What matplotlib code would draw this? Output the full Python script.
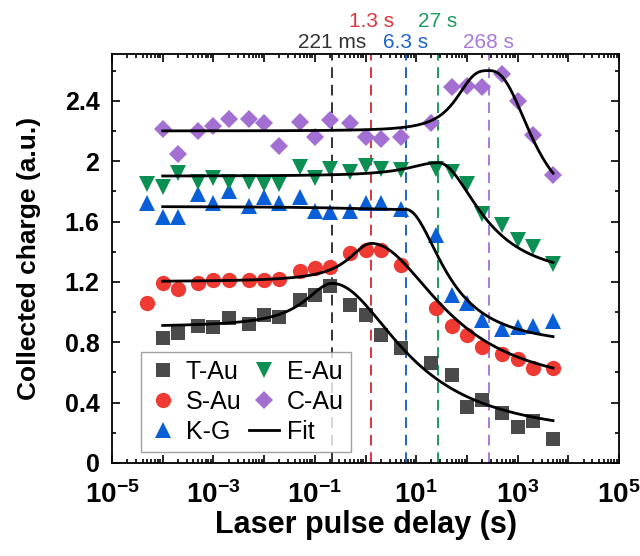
import numpy as np
import matplotlib
matplotlib.use("Agg")
import matplotlib.pyplot as plt
from matplotlib.ticker import LogLocator, MultipleLocator, NullFormatter, FuncFormatter

plt.rcParams['font.family'] = ['Liberation Sans', 'DejaVu Sans']
plt.rcParams['mathtext.fontset'] = 'custom'
plt.rcParams['mathtext.rm'] = 'Liberation Sans:bold'
plt.rcParams['mathtext.bf'] = 'Liberation Sans:bold'

# delay times (s)
t_full = [5e-5, 1e-4, 2e-4, 5e-4, 1e-3, 2e-3, 5e-3, 1e-2, 2e-2, 5e-2, 0.1, 0.2, 0.5,
          1, 2, 5, 25, 50, 100, 200, 500, 1000, 2000, 5000]
t_short = [1e-4, 2e-4, 5e-4, 1e-3, 2e-3, 5e-3, 1e-2, 2e-2, 5e-2, 0.1, 0.2, 0.5,
           1, 2, 5, 20, 50, 100, 200, 500, 1000, 2000, 5000]

# collected charge (a.u.)
t_au = [0.83, 0.86, 0.91, 0.90, 0.96, 0.92, 0.98, 0.97, 1.08, 1.11, 1.17, 1.05,
        0.98, 0.85, 0.76, 0.66, 0.58, 0.37, 0.42, 0.33, 0.24, 0.28, 0.16]
s_au = [1.06, 1.19, 1.15, 1.19, 1.21, 1.21, 1.21, 1.21, 1.22, 1.27, 1.29, 1.30,
        1.39, 1.41, 1.41, 1.31, 1.03, 0.91, 0.85, 0.77, 0.72, 0.69, 0.63, 0.63]
k_g = [1.72, 1.63, 1.63, 1.78, 1.72, 1.80, 1.70, 1.76, 1.72, 1.76, 1.67, 1.66,
       1.67, 1.72, 1.72, 1.68, 1.51, 1.11, 1.06, 0.95, 0.89, 0.90, 0.91, 0.94]
e_au = [1.85, 1.83, 1.92, 1.86, 1.89, 1.86, 1.86, 1.85, 1.85, 1.96, 1.89, 1.95,
        1.93, 1.97, 1.95, 1.94, 1.95, 1.93, 1.85, 1.65, 1.58, 1.48, 1.43, 1.32]
c_au = [2.21, 2.05, 2.20, 2.23, 2.28, 2.28, 2.25, 2.10, 2.26, 2.16, 2.27, 2.25,
        2.16, 2.15, 2.16, 2.25, 2.49, 2.50, 2.49, 2.58, 2.40, 2.17, 1.91]

# fit parameters: peak time, baseline, peak, end level, rise width/power, decay width/power
peak_t = [0.221, 1.3, 6.3, 27, 268]
base_y = [0.90, 1.20, 1.70, 1.90, 2.20]
peak_y = [1.19, 1.455, 1.68, 1.99, 2.60]
end_y = [0.15, 0.45, 0.76, 1.20, 1.60]
rise_w = [0.67, 0.55, 1.5, 0.73, 0.67]
rise_p = [2, 2, 2, 2, 3]
decay_w = [1.65, 1.67, 0.88, 1.0, 0.94]
decay_p = [2, 2, 2, 2, 2.5]
peak_labels = ['221 ms', '1.3 s', '6.3 s', '27 s', '268 s']
label_row = [0, 1, 0, 1, 0]

names = ['T-Au', 'S-Au', 'K-G', 'E-Au', 'C-Au']
colors = ['#4a4a4a', '#ee3a33', '#0a5ed7', '#0c8f52', '#a46fd2']
line_colors = ['#333333', '#d9363e', '#1f64c8', '#1f9a60', '#a87ad6']
markers = ['s', 'o', '^', 'v', 'D']
msizes = [10, 11, 12, 12, 9]
series = [(t_short, t_au), (t_full, s_au), (t_full, k_g), (t_full, e_au), (t_short, c_au)]


def fit_curve(t, tp, y0, yp, y1, wr, pr, wd, pd):
    du = np.log10(t) - np.log10(tp)
    rise = y0 + (yp - y0) / (1 + np.abs(du / wr) ** pr)
    fall = y1 + (yp - y1) / (1 + np.abs(du / wd) ** pd)
    return np.where(du < 0, rise, fall)


def decade_label(v, pos):
    e = int(round(np.log10(v)))
    if e % 2 == 0:
        return ''
    return r'$\mathbf{10^{%d}}$' % e


fig = plt.figure(figsize=(6.4, 5.56), dpi=100)
ax = fig.add_axes([0.175, 0.1673, 0.7922, 0.7356])

handles = []
for i in range(5):
    x, y = series[i]
    h, = ax.plot(x, y, linestyle='none', marker=markers[i], ms=msizes[i],
                 color=colors[i], mec=colors[i], mew=0, label=names[i], zorder=3)
    handles.append(h)

tt = np.logspace(-4, np.log10(5000), 400)
for i in range(5):
    yy = fit_curve(tt, peak_t[i], base_y[i], peak_y[i], end_y[i],
                   rise_w[i], rise_p[i], decay_w[i], decay_p[i])
    fit_line, = ax.plot(tt, yy, color='black', lw=2.0, zorder=4, label='Fit')

for i in range(5):
    ax.axvline(peak_t[i], color=line_colors[i], lw=1.4, ls=(0, (5.5, 3.5)), zorder=2)
    ax.text(peak_t[i], 1.027 + 0.053 * label_row[i], peak_labels[i],
            transform=ax.get_xaxis_transform(), ha='center', va='center',
            color=line_colors[i], fontsize=15)

ax.set_xscale('log')
ax.set_xlim(1e-5, 1e5)
ax.set_ylim(0, 2.71)

ax.xaxis.set_major_locator(LogLocator(base=10, numticks=20))
ax.xaxis.set_major_formatter(FuncFormatter(decade_label))
ax.xaxis.set_minor_locator(LogLocator(base=10, subs=np.arange(2, 10), numticks=20))
ax.xaxis.set_minor_formatter(NullFormatter())

ax.yaxis.set_major_locator(MultipleLocator(0.4))
ax.yaxis.set_minor_locator(MultipleLocator(0.2))
ax.yaxis.set_major_formatter(FuncFormatter(lambda v, p: ('%.1f' % v).rstrip('0').rstrip('.')))

ax.tick_params(which='both', direction='in', top=True, right=True, width=1.2)
ax.tick_params(which='major', length=6)
ax.tick_params(which='minor', length=3)
ax.tick_params(axis='y', which='major', labelsize=18, pad=9)
ax.tick_params(axis='x', which='major', labelsize=20, pad=13)
for lab in ax.get_yticklabels():
    lab.set_fontweight('bold')
for sp in ax.spines.values():
    sp.set_linewidth(1.3)

ax.set_xlabel('Laser pulse delay (s)', fontsize=22, fontweight='bold', labelpad=1)
ax.set_ylabel('Collected charge (a.u.)', fontsize=19, fontweight='bold', labelpad=17)

leg = ax.legend(handles=[handles[0], handles[1], handles[2], handles[3], handles[4], fit_line],
                labels=['T-Au', 'S-Au', 'K-G', 'E-Au', 'C-Au', 'Fit'],
                ncol=2, loc='lower left', bbox_to_anchor=(0.057, 0.028), borderaxespad=0,
                fontsize=18, frameon=True, fancybox=False, edgecolor='#888888',
                handlelength=1.2, handletextpad=0.3, columnspacing=0.3,
                labelspacing=0.25, borderpad=0.3)
leg.get_frame().set_linewidth(1.0)

fig.savefig('out.png', dpi=100)
